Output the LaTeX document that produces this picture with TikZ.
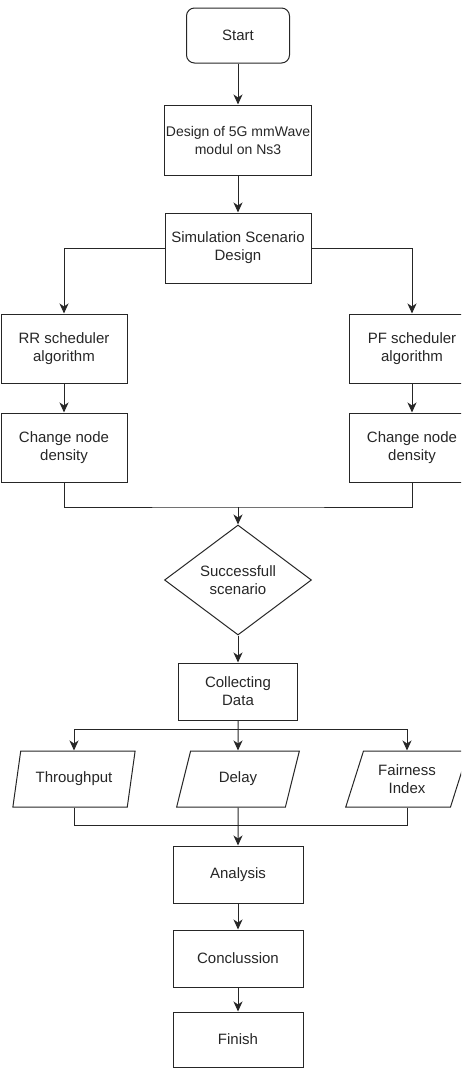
\documentclass[tikz,border=0pt]{standalone}
\usepackage{fontspec}
\setmainfont{Liberation Sans}
\usetikzlibrary{positioning,shapes.geometric,arrows.meta}

\tikzset{
  stepbox/.style={draw=black!85, line width=1pt, text=black!85, align=center,
    inner sep=1pt, minimum width=146pt, minimum height=70pt,
    font=\fontsize{15}{18}\selectfont},
  startbox/.style={stepbox, rounded corners=8pt, minimum width=103pt, minimum height=55pt},
  sidebox/.style={stepbox, minimum width=126pt, minimum height=69pt},
  endbox/.style={stepbox, minimum width=130pt, minimum height=57pt},
  iobox/.style={stepbox, trapezium, trapezium left angle=68, trapezium right angle=112,
    trapezium stretches=true, minimum width=123pt, minimum height=56pt, inner sep=0pt},
  decbox/.style={stepbox, diamond, aspect=1.34, minimum width=147pt, minimum height=110pt, inner sep=0pt},
  flow/.style={draw=black!85, line width=1pt},
  flowarrow/.style={flow, -{Stealth[length=10pt,width=9pt,inset=3pt]}}
}

\begin{document}
\begin{tikzpicture}[x=1pt,y=-1pt]
\clip (0,0) rectangle (461,1068);
% main column
\node[startbox] (start) at (238,35.5) {Start};
\node[stepbox, below=41pt of start, font=\fontsize{14}{18}\selectfont] (design) {Design of 5G mmWave\\modul on Ns3};
\node[stepbox, below=37pt of design] (scen) {Simulation Scenario\\Design};
% the two schedulers
\node[sidebox] (rr) at (64,348.5) {RR scheduler\\algorithm};
\node[sidebox] (pf) at (412,348.5) {PF scheduler\\algorithm};
\node[sidebox, below=29pt of rr] (densl) {Change node\\density};
\node[sidebox, below=29pt of pf] (densr) {Change node\\density};
\node[decbox] (ok) at (238,580) {Successfull\\scenario};
\node[endbox, below=27pt of ok, minimum width=119pt] (collect) {Collecting\\Data};
% outputs
\node[iobox] (thr) at (74,779) {Throughput};
\node[iobox] (dly) at (238,779) {Delay};
\node[iobox] (fair) at (407,779) {Fairness\\Index};
\node[endbox] (ana) at (238,874.5) {Analysis};
\node[endbox, below=26pt of ana] (concl) {Conclussion};
\node[endbox, below=24pt of concl, minimum height=55pt] (fin) {Finish};

\coordinate (join1) at (238,507);
\coordinate (split) at (238,729);
\coordinate (join2) at (238,825);

\draw[flowarrow] (start) -- (design);
\draw[flowarrow] (design) -- (scen);
\draw[flowarrow] (scen.west) -| (rr.north);
\draw[flowarrow] (scen.east) -| (pf.north);
\draw[flowarrow] (rr) -- (densl);
\draw[flowarrow] (pf) -- (densr);
\draw[flow] (densl.south) |- (join1) -| (densr.south);
\draw[flowarrow] (join1) -- (ok.north);
\draw[flowarrow] (ok) -- (collect);
\draw[flowarrow] (collect) -- (dly);
\draw[flowarrow] (split) -| (thr.north);
\draw[flowarrow] (split) -| (fair.north);
\draw[flow] (thr.south) |- (join2) -| (fair.south);
\draw[flowarrow] (dly) -- (ana);
\draw[flowarrow] (ana) -- (concl);
\draw[flowarrow] (concl) -- (fin);
\end{tikzpicture}
\end{document}
